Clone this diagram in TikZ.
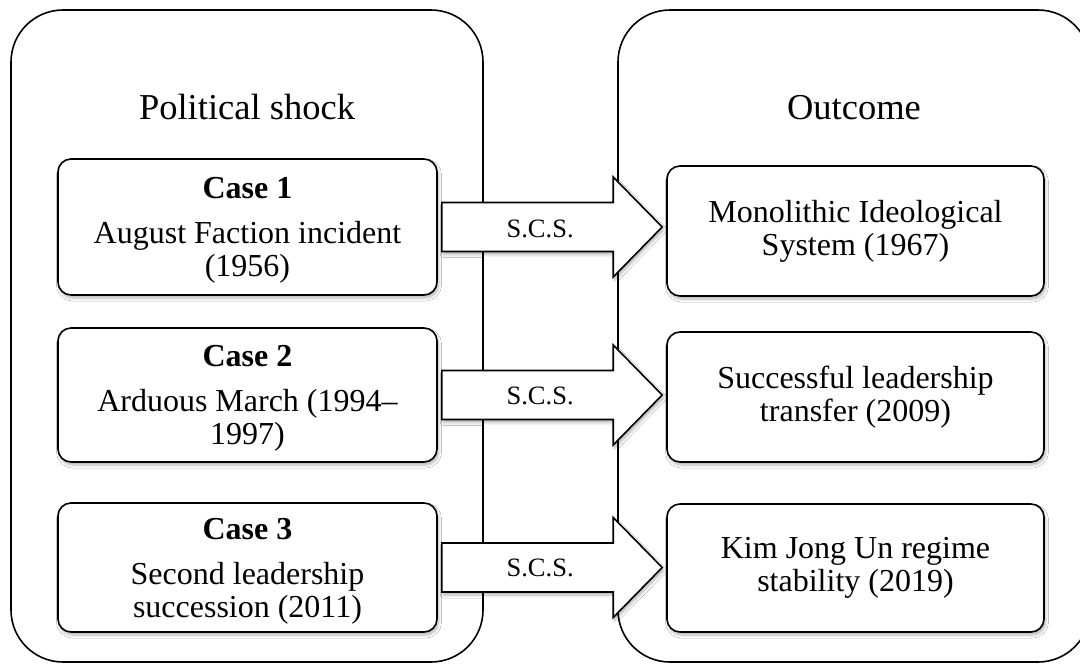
\documentclass[tikz,border=0pt]{standalone}
\usepackage{fontspec}
\setmainfont{Liberation Serif}
\usetikzlibrary{calc,shadows.blur}
\begin{document}
\begin{tikzpicture}[x=1pt,y=-1pt,
  container/.style={draw=black,line width=1.6pt,rounded corners=52pt,fill=white},
  title/.style={anchor=base,font=\fontsize{36.5}{40}\selectfont,inner sep=0pt},
  shade/.style={blur shadow={shadow xshift=1.5pt,shadow yshift=-3pt,shadow blur radius=3pt,shadow blur steps=6,shadow opacity=30}},
  casebox/.style={draw=black,line width=1.6pt,rounded corners=13pt,fill=white,shade,
    minimum width=379pt,align=center,font=\fontsize{32}{33}\selectfont,inner sep=0pt},
  outbox/.style={casebox,minimum width=377pt},
  blockarrow/.style={draw=black,line width=1.6pt,fill=white,shade,line join=miter},
  scs/.style={font=\fontsize{26.5}{28}\selectfont,inner sep=0pt}]
\useasboundingbox (0,0) rectangle (1080,664);
\clip (0,0) rectangle (1080,664);
% containers
\draw[container] (11,10) rectangle (483,662);
\draw[container] (618,10) rectangle (1090,662);
\node[title] (t1) at (247,119) {Political shock};
\node[title] (t2) at (854,119) {Outcome};
% case boxes
\node[casebox,minimum height=136pt] (c1) at (247.5,227) {\rule{0pt}{28pt}\textbf{Case 1}\\[12pt]August Faction incident\\(1956)};
\node[casebox,minimum height=134pt] (c2) at (247.5,395) {\rule{0pt}{28pt}\textbf{Case 2}\\[12pt]Arduous March (1994–\\1997)};
\node[casebox,minimum height=129pt] (c3) at (247.5,567.5) {\rule{0pt}{28pt}\textbf{Case 3}\\[12pt]Second leadership\\succession (2011)};
% outcome boxes
\node[outbox,minimum height=130pt] (o1) at (855.5,231) {Monolithic Ideological\\System (1967)};
\node[outbox,minimum height=130pt] (o2) at (855.5,397) {Successful leadership\\transfer (2009)};
\node[outbox,minimum height=128pt] (o3) at (855.5,568) {Kim Jong Un regime\\stability (2019)};
% block arrows
\foreach \a/\b in {c1/o1,c2/o2,c3/o3}{
  \draw[blockarrow] let \p1=($(\a.east)+(4,0)$), \p2=($(\b.west)+(-4,0)$) in
    (\x1,\y1+24.5pt) -- (\x2-49pt,\y1+24.5pt) -- (\x2-49pt,\y1+50pt) -- (\x2,\y1)
    -- (\x2-49pt,\y1-50pt) -- (\x2-49pt,\y1-24.5pt) -- (\x1,\y1-24.5pt) -- cycle;
}
\node[scs] (s1) at ($(c1.east)!0.448!(o1.west)+(0,0)$) {S.C.S.};
\node[scs] (s2) at ($(c2.east)!0.448!(o2.west)+(0,0)$) {S.C.S.};
\node[scs] (s3) at ($(c3.east)!0.448!(o3.west)+(0,0)$) {S.C.S.};
\end{tikzpicture}
\end{document}
